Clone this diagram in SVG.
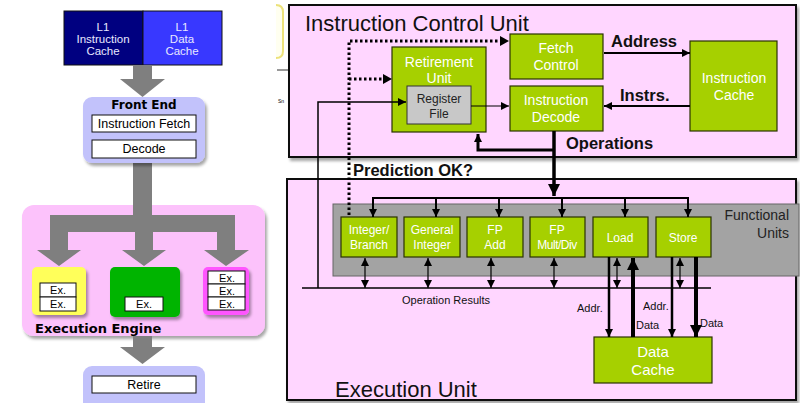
<svg xmlns="http://www.w3.org/2000/svg" width="800" height="403" viewBox="0 0 800 403">
<defs>
<style>
.t{font-family:"Liberation Sans",Arial,sans-serif}
.w{fill:#fff}
.g{fill:#a6d000;stroke:#2a3300;stroke-width:1.2}
.wb{fill:#fff;stroke:#111;stroke-width:1}
.ga{fill:#7f7f7f}
.ln{stroke:#000;fill:none}
.dot{stroke:#000;stroke-width:3;stroke-dasharray:2.5 2.5;fill:none}
</style>
<marker id="ah" viewBox="0 0 10 10" refX="10" refY="5" markerWidth="9" markerHeight="8" markerUnits="userSpaceOnUse" orient="auto-start-reverse"><path d="M0,0L10,5L0,10z" fill="#000"/></marker>
<marker id="ahb" viewBox="0 0 10 10" refX="10" refY="5" markerWidth="14" markerHeight="12" markerUnits="userSpaceOnUse" orient="auto-start-reverse"><path d="M0,0L10,5L0,10z" fill="#000"/></marker>
<filter id="sh" x="-10%" y="-10%" width="125%" height="125%"><feDropShadow dx="2" dy="3" stdDeviation="1.5" flood-color="#000" flood-opacity="0.35"/></filter>
</defs>
<rect width="800" height="403" fill="#fff"/>

<!-- LEFT DIAGRAM -->
<g id="l1-caches" class="t">
<rect x="64" y="11" width="79" height="54" fill="#000080" stroke="#111" stroke-width="1"/>
<rect x="143" y="11" width="79" height="54" fill="#3838ff" stroke="#111" stroke-width="1"/>
<g fill="#e8e8ff" font-size="11.5" text-anchor="middle">
<text x="103" y="31">L1</text><text x="103" y="43">Instruction</text><text x="103" y="55">Cache</text>
<text x="182" y="31">L1</text><text x="182" y="43">Data</text><text x="182" y="55">Cache</text>
</g>
</g>
<g id="left-arrows">
<polygon class="ga" points="133,65 152,65 152,79 165,79 142.5,97 120,79 133,79"/>
<polygon class="ga" points="133,163 152,163 152,215 133,215"/>
</g>
<g id="front-end" class="t">
<rect x="83" y="97" width="122" height="66" rx="9" fill="#c2c2fb" filter="url(#sh)"/>
<text x="144" y="109" font-size="12" font-weight="bold" text-anchor="middle" font-family="'DejaVu Sans',sans-serif">Front End</text>
<rect class="wb" x="92" y="115" width="104" height="17"/>
<text x="144" y="128" font-size="12.5" text-anchor="middle">Instruction Fetch</text>
<rect class="wb" x="92" y="140" width="104" height="18"/>
<text x="144" y="153" font-size="12.5" text-anchor="middle">Decode</text>
</g>
<g id="execution-engine" class="t">
<rect x="22" y="205" width="243" height="131" rx="12" fill="#fcc2fb" filter="url(#sh)"/>
<polygon class="ga" points="133,205 152,205 152,215 133,215"/>
<polygon class="ga" points="50,215 235,215 235,232 50,232"/>
<polygon class="ga" points="50,232 68,232 68,250 81,250 59,266 37,250 50,250"/>
<polygon class="ga" points="135,215 153,215 153,250 166,250 144,266 122,250 135,250"/>
<polygon class="ga" points="217,215 235,215 235,250 249,250 226,266 204,250 217,250"/>
<rect x="32" y="267" width="54" height="48" rx="5" fill="#ffff5a" filter="url(#sh)"/>
<rect class="wb" x="40" y="283" width="36" height="14"/>
<rect class="wb" x="40" y="297" width="36" height="14"/>
<text x="58" y="294" font-size="11" text-anchor="middle">Ex.</text>
<text x="58" y="308" font-size="11" text-anchor="middle">Ex.</text>
<rect x="110" y="267" width="70" height="50" rx="5" fill="#00b400" filter="url(#sh)"/>
<rect class="wb" x="125" y="297" width="38" height="14"/>
<text x="144" y="308" font-size="11" text-anchor="middle">Ex.</text>
<rect x="203" y="267" width="46" height="48" rx="5" fill="#ff55ff" filter="url(#sh)"/>
<rect class="wb" x="208" y="271" width="37" height="13"/>
<rect class="wb" x="208" y="284" width="37" height="13"/>
<rect class="wb" x="208" y="297" width="37" height="13"/>
<text x="227" y="282" font-size="11" text-anchor="middle">Ex.</text>
<text x="227" y="295" font-size="11" text-anchor="middle">Ex.</text>
<text x="227" y="308" font-size="11" text-anchor="middle">Ex.</text>
<text x="35" y="333" font-size="13" font-weight="bold" font-family="'DejaVu Sans',sans-serif">Execution Engine</text>
</g>
<g id="retire" class="t">
<polygon class="ga" points="133,336 152,336 152,347 165,347 142.5,364 120,347 133,347"/>
<rect x="83" y="366" width="122" height="45" rx="9" fill="#c2c2fb"/>
<rect class="wb" x="92" y="376" width="104" height="17"/>
<text x="144" y="389" font-size="12.5" text-anchor="middle">Retire</text>
</g>

<!-- RIGHT DIAGRAM -->
<g id="fragment">
<path d="M276,5 Q283,5 283,12 V51 Q283,58 276,58" fill="#fffff0" stroke="#ece27a" stroke-width="2"/>
<line x1="277" y1="70" x2="289" y2="70" stroke="#333" stroke-width="1"/>
<text x="278" y="103" font-size="5" class="t">Sn</text>
</g>
<g id="icu" class="t">
<rect x="289" y="5" width="507" height="152" fill="#ffd6ff" stroke="#111" stroke-width="2" filter="url(#sh)"/>
<text x="305" y="31" font-size="22" fill="#111">Instruction Control Unit</text>
</g>
<g id="eu" class="t">
<rect x="287" y="179" width="509" height="221" fill="#ffd6ff" stroke="#111" stroke-width="2" filter="url(#sh)"/>
<text x="335" y="397" font-size="22" fill="#111">Execution Unit</text>
</g>
<g id="functional-units" class="t">
<rect x="333" y="204" width="466" height="72" fill="#a3a3a3" stroke="#666" stroke-width="1"/>
<text x="789" y="220" font-size="14" fill="#222" text-anchor="end">Functional</text>
<text x="789" y="238" font-size="14" fill="#222" text-anchor="end">Units</text>
</g>
<g id="retirement-unit" class="t">
<rect class="g" x="392" y="47" width="94" height="85"/>
<text x="439" y="67" font-size="14" class="w" text-anchor="middle">Retirement</text>
<text x="439" y="83" font-size="14" class="w" text-anchor="middle">Unit</text>
</g>
<g id="register-file" class="t">
<rect x="407" y="86" width="64" height="38" fill="#c8c8c8" stroke="#333" stroke-width="1"/>
<text x="439" y="103" font-size="12" fill="#222" text-anchor="middle">Register</text>
<text x="439" y="118" font-size="12" fill="#222" text-anchor="middle">File</text>
</g>
<g id="fetch-control" class="t">
<rect class="g" x="510" y="34" width="93" height="45"/>
<text x="556" y="53" font-size="14" class="w" text-anchor="middle">Fetch</text>
<text x="556" y="70" font-size="14" class="w" text-anchor="middle">Control</text>
</g>
<g id="instruction-decode" class="t">
<rect class="g" x="510" y="86" width="93" height="45"/>
<text x="556" y="105" font-size="14" class="w" text-anchor="middle">Instruction</text>
<text x="556" y="122" font-size="14" class="w" text-anchor="middle">Decode</text>
</g>
<g id="instruction-cache" class="t">
<rect class="g" x="690" y="41" width="87" height="90"/>
<text x="734" y="83" font-size="14" class="w" text-anchor="middle">Instruction</text>
<text x="734" y="100" font-size="14" class="w" text-anchor="middle">Cache</text>
</g>
<g id="integer-branch" class="t">
<rect class="g" x="341" y="217" width="56" height="40"/>
<text x="369" y="234" font-size="12" class="w" text-anchor="middle">Integer/</text>
<text x="369" y="249" font-size="12" class="w" text-anchor="middle">Branch</text>
</g>
<g id="general-integer" class="t">
<rect class="g" x="404" y="217" width="56" height="40"/>
<text x="432" y="234" font-size="12" class="w" text-anchor="middle">General</text>
<text x="432" y="249" font-size="12" class="w" text-anchor="middle">Integer</text>
</g>
<g id="fp-add" class="t">
<rect class="g" x="467" y="217" width="56" height="40"/>
<text x="495" y="234" font-size="12" class="w" text-anchor="middle">FP</text>
<text x="495" y="249" font-size="12" class="w" text-anchor="middle">Add</text>
</g>
<g id="fp-mult-div" class="t">
<rect class="g" x="530" y="217" width="55" height="40"/>
<text x="557" y="234" font-size="12" class="w" text-anchor="middle">FP</text>
<text x="557" y="249" font-size="12" class="w" text-anchor="middle" letter-spacing="-0.5">Mult/Div</text>
</g>
<g id="load" class="t">
<rect class="g" x="593" y="217" width="55" height="40"/>
<text x="620" y="242" font-size="12" class="w" text-anchor="middle">Load</text>
</g>
<g id="store" class="t">
<rect class="g" x="656" y="217" width="55" height="40"/>
<text x="683" y="242" font-size="12" class="w" text-anchor="middle">Store</text>
</g>
<g id="data-cache" class="t">
<rect class="g" x="594" y="337" width="118" height="46"/>
<text x="653" y="357" font-size="15" class="w" text-anchor="middle">Data</text>
<text x="653" y="375" font-size="15" class="w" text-anchor="middle">Cache</text>
</g>

<g id="connectors">
<line class="ln" x1="604" y1="53" x2="690" y2="53" stroke-width="2" marker-end="url(#ah)"/>
<line class="ln" x1="690" y1="106" x2="604" y2="106" stroke-width="2" marker-end="url(#ah)"/>
<line class="ln" x1="471" y1="106" x2="509" y2="106" stroke-width="1.2" marker-end="url(#ah)"/>
<polyline class="ln" points="318,288 318,102 406,102" stroke-width="1.5" marker-end="url(#ah)"/>
<polyline class="dot" points="349,215 349,41 500,41"/>
<polygon points="500,36 509,41 500,46" fill="#000"/>
<line class="dot" x1="349" y1="79" x2="384" y2="79"/>
<polygon points="383,74 392,79 383,84" fill="#000"/>
<polyline class="ln" points="554,150 478,150 478,134" stroke-width="3" marker-end="url(#ah)"/>
<line class="ln" x1="554" y1="131" x2="554" y2="196" stroke-width="3.5" marker-end="url(#ahb)"/>
<line class="ln" x1="373" y1="198" x2="688" y2="198" stroke-width="2"/>
<line class="ln" x1="373" y1="197" x2="373" y2="217" stroke-width="2" marker-end="url(#ah)"/>
<line class="ln" x1="436" y1="197" x2="436" y2="217" stroke-width="2" marker-end="url(#ah)"/>
<line class="ln" x1="499" y1="197" x2="499" y2="217" stroke-width="2" marker-end="url(#ah)"/>
<line class="ln" x1="562" y1="197" x2="562" y2="217" stroke-width="2" marker-end="url(#ah)"/>
<line class="ln" x1="625" y1="197" x2="625" y2="217" stroke-width="2" marker-end="url(#ah)"/>
<line class="ln" x1="688" y1="197" x2="688" y2="217" stroke-width="2" marker-end="url(#ah)"/>
<line class="ln" x1="302" y1="288" x2="711" y2="288" stroke-width="1.5"/>
<line class="ln" x1="365" y1="258" x2="365" y2="288" stroke-width="1.2" marker-start="url(#ah)" marker-end="url(#ah)"/>
<line class="ln" x1="428" y1="258" x2="428" y2="288" stroke-width="1.2" marker-start="url(#ah)" marker-end="url(#ah)"/>
<line class="ln" x1="491" y1="258" x2="491" y2="288" stroke-width="1.2" marker-start="url(#ah)" marker-end="url(#ah)"/>
<line class="ln" x1="554" y1="258" x2="554" y2="288" stroke-width="1.2" marker-start="url(#ah)" marker-end="url(#ah)"/>
<line class="ln" x1="617" y1="258" x2="617" y2="288" stroke-width="1.2" marker-start="url(#ah)" marker-end="url(#ah)"/>
<line class="ln" x1="680" y1="258" x2="680" y2="288" stroke-width="1.2" marker-start="url(#ah)" marker-end="url(#ah)"/>
<line class="ln" x1="609" y1="257" x2="609" y2="337" stroke-width="2.5" marker-end="url(#ah)"/>
<line class="ln" x1="633" y1="337" x2="633" y2="258" stroke-width="4" marker-end="url(#ahb)"/>
<line class="ln" x1="672" y1="257" x2="672" y2="337" stroke-width="2.5" marker-end="url(#ah)"/>
<line class="ln" x1="696" y1="257" x2="696" y2="337" stroke-width="4" marker-end="url(#ahb)"/>
</g>
<g id="labels" class="t" fill="#111">
<text x="611" y="47" font-size="16.5" font-weight="bold">Address</text>
<text x="620" y="101" font-size="16.5" font-weight="bold">Instrs.</text>
<text x="566" y="149" font-size="16.5" font-weight="bold">Operations</text>
<text x="353" y="176" font-size="16.5" font-weight="bold">Prediction OK?</text>
<text x="446" y="304" font-size="11" text-anchor="middle">Operation Results</text>
<text x="577" y="312" font-size="11">Addr.</text>
<text x="636" y="329" font-size="11">Data</text>
<text x="643" y="310" font-size="11">Addr.</text>
<text x="700" y="327" font-size="11">Data</text>
</g>
</svg>
